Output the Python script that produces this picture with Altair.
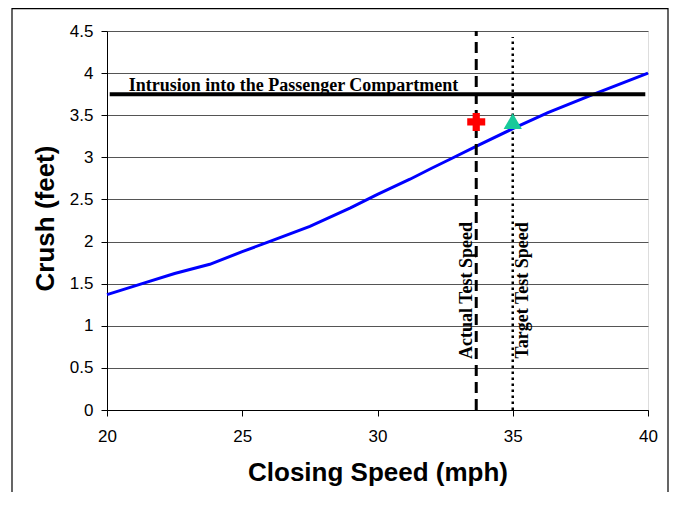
import altair as alt
import pandas as pd

# Curve data
speed = [20, 21.3, 22.5, 23.8, 25, 26, 27.5, 29, 30, 31.2, 32, 32.7, 33.7, 35, 36.3, 38, 40]
crush = [1.37, 1.5, 1.62, 1.73, 1.88, 2.0, 2.18, 2.4, 2.56, 2.74, 2.87, 2.98, 3.14, 3.34, 3.53, 3.75, 4.0]

# Reference values
intrusion_level = 3.75
actual_speed = 33.65
target_speed = 35
actual_crush = 3.42
target_crush = 3.43

x_ticks = [20, 25, 30, 35, 40]
y_ticks = [0, 0.5, 1, 1.5, 2, 2.5, 3, 3.5, 4, 4.5]

curve_df = pd.DataFrame({"speed": speed, "crush": crush})

xs = alt.Scale(domain=[20, 40], nice=False, zero=False)
ys = alt.Scale(domain=[0, 4.5], nice=False)

x_axis = alt.Axis(values=x_ticks, title="Closing Speed (mph)", grid=False, labelFlush=False,
                  labelFont="Liberation Sans", labelFontSize=17, labelColor="black",
                  labelPadding=12, tickSize=6, tickColor="black", domainColor="black",
                  titleFont="Liberation Sans", titleFontSize=26, titleFontWeight="bold",
                  titleColor="black", titleBaseline="alphabetic", titleY=70)
y_axis = alt.Axis(values=y_ticks, title="Crush (feet)", grid=True, gridColor="#555555",
                  gridWidth=1, labelExpr="'' + datum.value", labelFlush=False,
                  labelFont="Liberation Sans", labelFontSize=17, labelColor="black",
                  labelPadding=8, tickSize=6, tickColor="black", domainColor="black",
                  titleFont="Liberation Sans", titleFontSize=26, titleFontWeight="bold",
                  titleColor="black", titleAngle=270, titleBaseline="alphabetic",
                  titleAlign="center", titleX=-54, titleY=187)

base = alt.Chart(curve_df)

curve = base.mark_line(color="#0000FF", strokeWidth=3).encode(
    x=alt.X("speed:Q", scale=xs, axis=x_axis),
    y=alt.Y("crush:Q", scale=ys, axis=y_axis),
)

thr_df = pd.DataFrame({"x1": [20.1], "x2": [39.9], "y": [intrusion_level]})
threshold = alt.Chart(thr_df).mark_rule(color="black", strokeWidth=4).encode(
    x=alt.X("x1:Q", scale=xs), x2="x2:Q", y=alt.Y("y:Q", scale=ys)
)

actual_df = pd.DataFrame({"x": [actual_speed], "y1": [0], "y2": [4.5]})
actual_rule = alt.Chart(actual_df).mark_rule(color="black", strokeWidth=3, strokeDash=[11, 6]).encode(
    x=alt.X("x:Q", scale=xs), y=alt.Y("y1:Q", scale=ys), y2="y2:Q"
)

target_df = pd.DataFrame({"x": [target_speed], "y1": [0], "y2": [4.43]})
target_rule = alt.Chart(target_df).mark_rule(color="black", strokeWidth=2.5, strokeDash=[2.5, 3.5]).encode(
    x=alt.X("x:Q", scale=xs), y=alt.Y("y1:Q", scale=ys), y2="y2:Q"
)

cross_df = pd.DataFrame({"x": [actual_speed], "y": [actual_crush]})
cross = alt.Chart(cross_df).mark_point(shape="cross", filled=True, size=324, color="#FF0000", opacity=1).encode(
    x=alt.X("x:Q", scale=xs), y=alt.Y("y:Q", scale=ys)
)

tri_df = pd.DataFrame({"x": [target_speed], "y": [target_crush]})
tri = alt.Chart(tri_df).mark_point(shape="triangle-up", filled=True, size=335, color="#19C99A", opacity=1).encode(
    x=alt.X("x:Q", scale=xs), y=alt.Y("y:Q", scale=ys)
)

lbl_df = pd.DataFrame({"x": [20.8], "y": [3.79], "t": ["Intrusion into the Passenger Compartment"]})
intr_text = alt.Chart(lbl_df).mark_text(font="Liberation Serif", fontWeight="bold", fontSize=18,
                                         align="left", baseline="alphabetic", color="black").encode(
    x=alt.X("x:Q", scale=xs), y=alt.Y("y:Q", scale=ys), text="t:N"
)

vt_df = pd.DataFrame({"x": [33.49, 35.56], "y": [1.42, 1.42], "t": ["Actual Test Speed", "Target Test Speed"]})
vtext = alt.Chart(vt_df).mark_text(font="Liberation Serif", fontWeight="bold", fontSize=18, angle=270,
                                    align="center", baseline="alphabetic", color="black").encode(
    x=alt.X("x:Q", scale=xs), y=alt.Y("y:Q", scale=ys), text="t:N"
)

frame_df = pd.DataFrame({"k": [0]})
frame = alt.Chart(frame_df).mark_rect(filled=False, stroke="black", strokeWidth=1.2).encode(
    x=alt.value(-95), x2=alt.value(561), y=alt.value(-22.3), y2=alt.value(500)
)

chart = alt.layer(frame, curve, threshold, actual_rule, target_rule, cross, tri, intr_text, vtext).properties(
    width=541, height=379,
    autosize=alt.AutoSizeParams(type="none"),
    padding={"left": 99, "top": 23, "right": 22, "bottom": 82},
).configure_view(stroke="#888888", strokeWidth=1).configure(background="white")

chart.save("out.html", embed_options={"renderer": "svg", "actions": False})
